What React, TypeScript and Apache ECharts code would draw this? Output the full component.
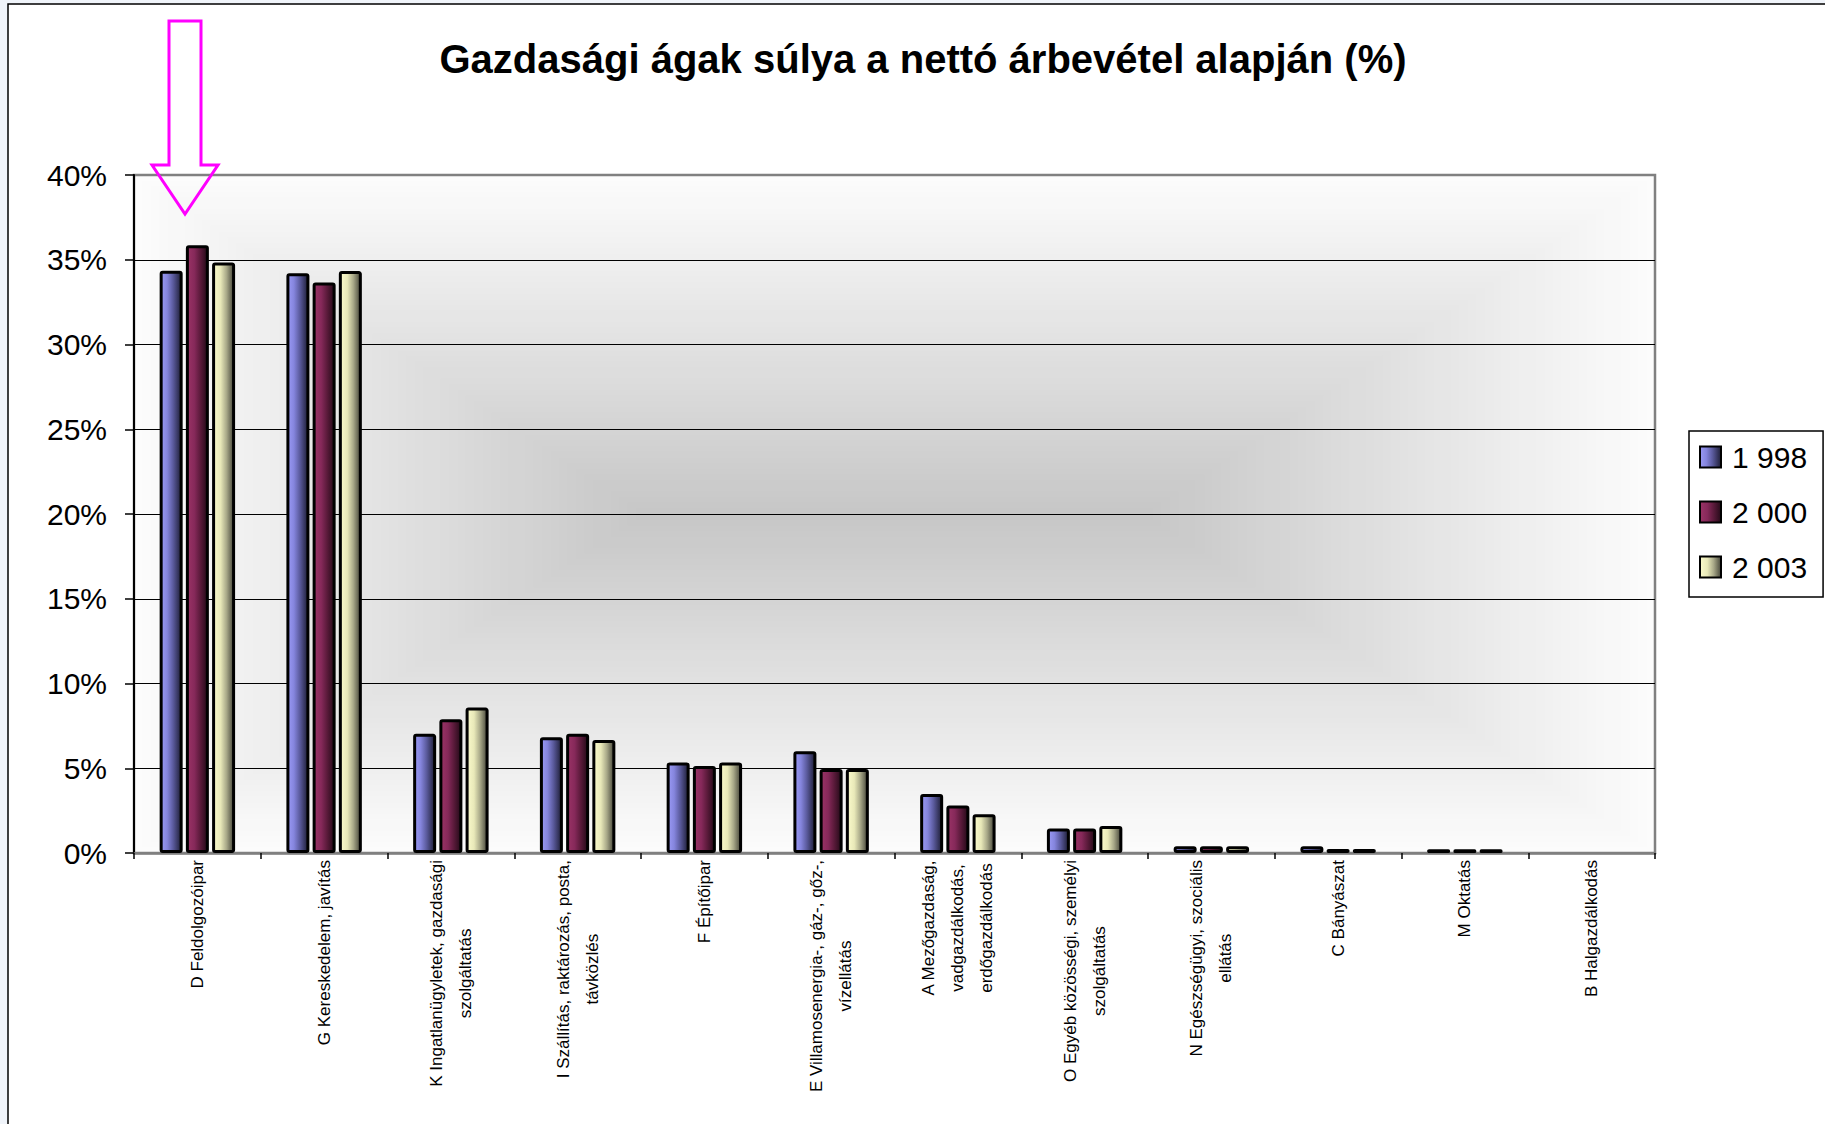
import React, { useEffect, useRef } from 'react';
import * as echarts from 'echarts';

const categories = [
  'D Feldolgozóipar',
  'G Kereskedelem, javítás',
  'K Ingatlanügyletek, gazdasági\nszolgáltatás',
  'I Szállítás, raktározás, posta,\ntávközlés',
  'F Építőipar',
  'E Villamosenergia-, gáz-, gőz-,\nvízellátás',
  'A Mezőgazdaság,\nvadgazdálkodás,\nerdőgazdálkodás',
  'O Egyéb közösségi, személyi\nszolgáltatás',
  'N Egészségügyi, szociális\nellátás',
  'C Bányászat',
  'M Oktatás',
  'B Halgazdálkodás',
];
const seriesNames = ['1 998', '2 000', '2 003'];
const values1998 = [34.35, 34.2, 7.03, 6.83, 5.34, 6.01, 3.48, 1.44, 0.4, 0.4, 0.22, 0];
const values2000 = [35.86, 33.66, 7.89, 7.03, 5.14, 4.96, 2.8, 1.44, 0.4, 0.24, 0.22, 0];
const values2003 = [34.84, 34.33, 8.58, 6.67, 5.34, 4.96, 2.28, 1.6, 0.4, 0.24, 0.22, 0];
const yMin = 0;
const yMax = 40;
const yStep = 5;

const FONT = 'Liberation Sans, Arial, sans-serif';
const W = 1825;
const H = 1124;
const PLOT = { left: 134, top: 175, right: 1655, bottom: 853 };

function grad(stops: [number, string][]) {
  return new echarts.graphic.LinearGradient(
    0, 0, 1, 0,
    stops.map(([offset, color]) => ({ offset, color }))
  );
}

const seriesColors = [
  grad([[0, '#9a9af5'], [0.3, '#8585dd'], [0.6, '#5a5a9c'], [1, '#1e1e36']]),
  grad([[0, '#9a3366'], [0.35, '#86295a'], [0.65, '#5a1a3a'], [1, '#240a18']]),
  grad([[0, '#fbfbcc'], [0.35, '#e8e8b8'], [0.65, '#a8a888'], [1, '#46463a']]),
];

function buildBackground() {
  const els: any[] = [];
  const N = 60;
  const cx = (PLOT.left + PLOT.right) / 2;
  const cy = (PLOT.top + PLOT.bottom) / 2;
  const hw = (PLOT.right - PLOT.left) / 2;
  const hh = (PLOT.bottom - PLOT.top) / 2;
  const c = 250;
  for (let i = 0; i < N; i++) {
    const t = 1 - i / N;
    const halfW = c + (hw - c) * t;
    const halfH = hh * t;
    const g = Math.round(198 + 54 * t);
    els.push({
      type: 'rect',
      z: -100 + i,
      silent: true,
      shape: { x: cx - halfW, y: cy - halfH, width: 2 * halfW, height: 2 * halfH },
      style: { fill: `rgb(${g},${g},${g})` },
    });
  }
  return els;
}

export default function App() {
  const ref = useRef<HTMLDivElement>(null);
  useEffect(() => {
    if (!ref.current) return;
    const chart = echarts.init(ref.current, undefined, { renderer: 'svg' });
    const allValues = [values1998, values2000, values2003];
    const option: any = {
      animation: false,
      backgroundColor: '#f0f4fa',
      title: {
        text: 'Gazdasági ágak súlya a nettó árbevétel alapján (%)',
        left: 923,
        textAlign: 'center',
        top: 39,
        padding: 0,
        textStyle: { fontSize: 40, fontWeight: 'bold', fontFamily: FONT, color: '#000' },
      },
      legend: {
        orient: 'vertical',
        left: 1689,
        top: 431,
        padding: [11, 16, 15, 10],
        itemGap: 25,
        itemWidth: 21,
        itemHeight: 21,
        icon: 'rect',
        borderColor: '#000',
        borderWidth: 1.5,
        backgroundColor: '#fff',
        data: seriesNames,
        textStyle: { fontSize: 30, fontFamily: FONT, color: '#000', padding: [0, 0, 0, 6] },
      },
      grid: {
        left: PLOT.left,
        right: W - PLOT.right,
        top: PLOT.top,
        bottom: H - PLOT.bottom,
        show: true,
        borderColor: '#808080',
        borderWidth: 2.5,
        backgroundColor: 'transparent',
      },
      xAxis: {
        type: 'category',
        data: categories,
        axisLine: { show: true, lineStyle: { color: '#808080', width: 2.5 } },
        axisTick: { show: true, length: 6, lineStyle: { color: '#000', width: 1.5 } },
        axisLabel: {
          interval: 0,
          rotate: 90,
          margin: 7,
          formatter: (v: string) => v.split('\n').map((l) => `{c|${l}}`).join('\n'),
          rich: {
            c: { align: 'center', fontSize: 17, lineHeight: 29, fontFamily: FONT, color: '#000' },
          },
        },
        splitLine: { show: false },
      },
      yAxis: {
        type: 'value',
        min: yMin,
        max: yMax,
        interval: yStep,
        axisLine: { show: true, lineStyle: { color: '#000', width: 2 } },
        axisTick: { show: true, length: 9, lineStyle: { color: '#000', width: 1.5 } },
        axisLabel: {
          formatter: '{value}%',
          fontSize: 30,
          fontFamily: FONT,
          color: '#000',
          margin: 27,
        },
        splitLine: {
          show: true,
          lineStyle: {
            color: ['#808080', '#000', '#000', '#000', '#000', '#000', '#000', '#000', '#808080'],
            width: 1.2,
          },
        },
      },
      series: seriesNames.map((name, i) => ({
        name,
        type: 'bar',
        // a share of exactly 0 draws no bar at all, as in the original
        data: allValues[i].map((v) => (v === 0 ? null : v)),
        barWidth: 23,
        barGap: '14%',
        itemStyle: {
          color: seriesColors[i],
          borderColor: '#000',
          borderWidth: 3,
          borderRadius: 1.5,
        },
        emphasis: { disabled: true },
      })),
      graphic: [
        {
          type: 'rect',
          z: -200,
          silent: true,
          shape: { x: 8, y: 4, width: W + 50, height: H + 50 },
          style: { fill: '#fff', stroke: '#000', lineWidth: 1.5 },
        },
        ...buildBackground(),
        {
          type: 'polygon',
          z: 100,
          silent: true,
          shape: {
            points: [
              [169, 21], [201, 21], [201, 165], [218, 165], [185, 214], [152, 165], [169, 165],
            ],
          },
          style: { fill: 'none', stroke: '#ff00ff', lineWidth: 3 },
        },
      ],
    };
    chart.setOption(option);
    return () => chart.dispose();
  }, []);
  return (
    <div
      ref={ref}
      style={{ position: 'absolute', left: 0, top: 0, width: W, height: H }}
    />
  );
}
